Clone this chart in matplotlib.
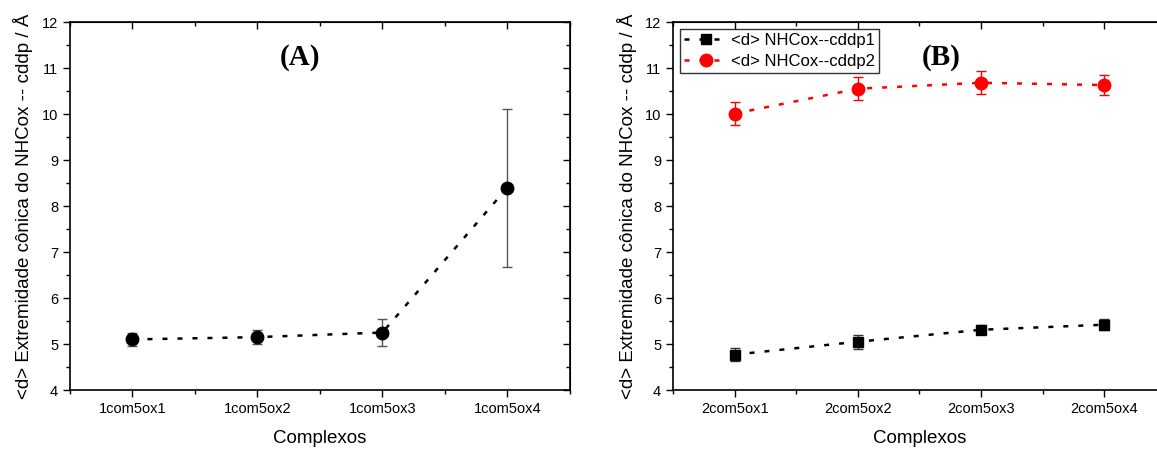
import matplotlib.pyplot as plt
from matplotlib.ticker import MultipleLocator
from matplotlib.lines import Line2D

plt.rcParams['font.family'] = ['Liberation Sans', 'DejaVu Sans']

# painel A
cats_a = ['1com5ox1', '1com5ox2', '1com5ox3', '1com5ox4']
d_a = [5.10, 5.15, 5.25, 8.40]
err_a = [0.15, 0.15, 0.30, 1.72]

# painel B
cats_b = ['2com5ox1', '2com5ox2', '2com5ox3', '2com5ox4']
d_cddp1 = [4.77, 5.05, 5.31, 5.42]
err_cddp1 = [0.15, 0.15, 0.10, 0.12]
d_cddp2 = [10.01, 10.55, 10.68, 10.63]
err_cddp2 = [0.25, 0.25, 0.25, 0.22]

ylabel = '<d> Extremidade cônica do NHCox -- cddp / Å'
ls = (0, (2, 4))

fig = plt.figure(figsize=(11.57, 4.5), dpi=100)
ax1 = fig.add_axes([0.0605, 0.1333, 0.432, 0.8177])
ax2 = fig.add_axes([0.5817, 0.1333, 0.426, 0.8177])


def style(ax, cats):
    ax.set_xlim(0.5, 4.5)
    ax.set_ylim(4, 12)
    ax.set_xticks([1, 2, 3, 4])
    ax.set_xticklabels(cats)
    ax.xaxis.set_minor_locator(MultipleLocator(0.5))
    ax.yaxis.set_major_locator(MultipleLocator(1))
    ax.yaxis.set_minor_locator(MultipleLocator(0.5))
    ax.tick_params(which='both', direction='out', top=False, right=False,
                   labelsize=10.5, width=1)
    ax.tick_params(which='major', length=5)
    ax.tick_params(which='minor', length=3)
    sec = ax.secondary_xaxis('top')
    sec.set_xticks([1, 2, 3, 4])
    sec.xaxis.set_minor_locator(MultipleLocator(0.5))
    sec.tick_params(which='both', direction='in', labeltop=False, width=1)
    sec.tick_params(which='major', length=5)
    sec.tick_params(which='minor', length=3)
    secy = ax.secondary_yaxis('right')
    secy.yaxis.set_major_locator(MultipleLocator(1))
    secy.yaxis.set_minor_locator(MultipleLocator(0.5))
    secy.tick_params(which='both', direction='in', labelright=False, width=1)
    secy.tick_params(which='major', length=5)
    secy.tick_params(which='minor', length=3)
    for s in ax.spines.values():
        s.set_linewidth(1.2)
    ax.set_xlabel('Complexos', fontsize=13.5, labelpad=10)
    ax.set_ylabel(ylabel, fontsize=13.5, labelpad=6)


x = [1, 2, 3, 4]
ax1.errorbar(x, d_a, yerr=err_a, color='black', ecolor='#555555', elinewidth=1,
             capsize=3.5, linestyle=ls, linewidth=1.8, marker='o', markersize=9)
style(ax1, cats_a)
ax1.text(0.46, 0.94, '(A)', transform=ax1.transAxes, ha='center', va='top',
         fontsize=21, fontweight='bold', family='Liberation Serif')

ax2.errorbar(x, d_cddp1, yerr=err_cddp1, color='black', ecolor='#333333', elinewidth=1,
             capsize=3.5, linestyle=ls, linewidth=1.8, marker='s', markersize=7)
ax2.errorbar(x, d_cddp2, yerr=err_cddp2, color='red', ecolor='red', elinewidth=1,
             capsize=3.5, linestyle=ls, linewidth=1.8, marker='o', markersize=9)
style(ax2, cats_b)
ax2.text(0.545, 0.94, '(B)', transform=ax2.transAxes, ha='center', va='top',
         fontsize=21, fontweight='bold', family='Liberation Serif')
handles = [Line2D([], [], color='black', linestyle=ls, linewidth=1.8, marker='s', markersize=7),
           Line2D([], [], color='red', linestyle=ls, linewidth=1.8, marker='o', markersize=9)]
leg = ax2.legend(handles, ['<d> NHCox--cddp1', '<d> NHCox--cddp2'], loc='upper left',
                 fontsize=12, frameon=True, fancybox=False, edgecolor='black',
                 handlelength=2.6, borderpad=0.25, labelspacing=0.35, handletextpad=0.2,
                 borderaxespad=0.4)
leg.get_frame().set_linewidth(1)

fig.savefig('out.png', dpi=100)
